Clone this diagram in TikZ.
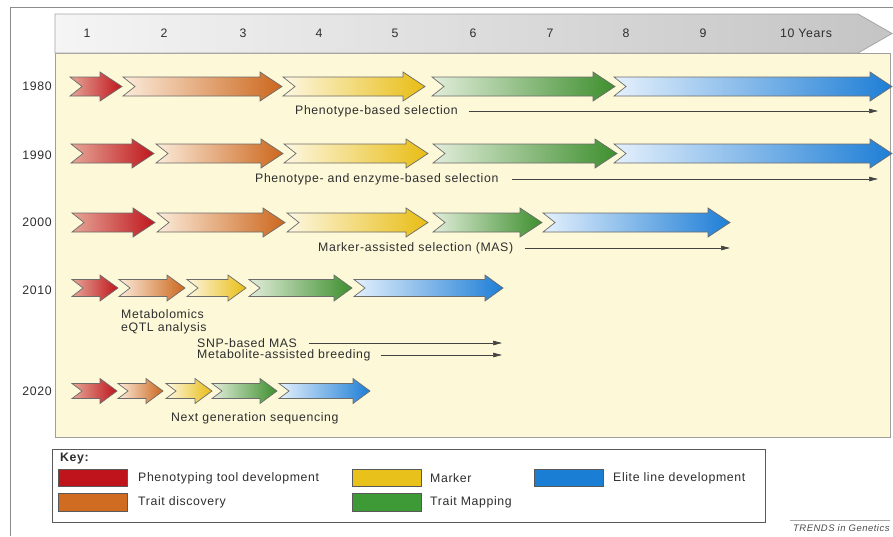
\documentclass[tikz,border=0pt]{standalone}
\usepackage{fontspec}
\setmainfont{Liberation Sans}[LetterSpace=5]
\usetikzlibrary{arrows.meta}
\definecolor{txt}{HTML}{2E2E2E}
\definecolor{frame}{HTML}{8C8C8C}
\definecolor{panel}{HTML}{FCF8D8}
\definecolor{redE}{HTML}{BF161D}
\definecolor{redS}{HTML}{E6A697}
\definecolor{orgE}{HTML}{CC671D}
\definecolor{orgS}{HTML}{FBEBDA}
\definecolor{yelE}{HTML}{E8BD14}
\definecolor{yelS}{HTML}{FDF7E2}
\definecolor{grnE}{HTML}{3E8F2E}
\definecolor{grnS}{HTML}{E2EDDA}
\definecolor{bluE}{HTML}{1E7ED6}
\definecolor{bluS}{HTML}{E4F0FC}
\definecolor{kred}{HTML}{C0141C}
\definecolor{korg}{HTML}{CF6C22}
\definecolor{kyel}{HTML}{E8C21A}
\definecolor{kgrn}{HTML}{3E9A36}
\definecolor{kblu}{HTML}{1A7ED4}
\newcommand\chv[5]{%
  \path[chevline, left color=#4, right color=#5]
  (#1,#3-\bh) -- (#2-\hl,#3-\bh) -- (#2-\hl,#3-\hh) -- (#2,#3)
  -- (#2-\hl,#3+\hh) -- (#2-\hl,#3+\bh) -- (#1,#3+\bh) -- (#1+\nd,#3) -- cycle;}
\begin{document}
\begin{tikzpicture}[x=1pt,y=-1pt,
  font=\fontsize{12.3}{13}\selectfont, text=txt,
  chevline/.style={draw=gray!85!black, line width=0.7pt, line join=miter},
  lbl/.style={anchor=west, inner sep=0pt},
  yr/.style={inner sep=0pt},
  lblline/.style={draw=txt!90, line width=0.7pt, -{Triangle[length=9pt,width=4.5pt]}},
  swatch/.style={draw=gray!70!black, line width=0.5pt, minimum width=69pt, minimum height=17pt, inner sep=0pt}]
\useasboundingbox (0,0) rectangle (893,536);
\fill[white] (0,0) rectangle (893,536);
% outer frame
\draw[frame, line width=0.8pt] (893,7) -- (10,7) -- (10,536);
% panel
\draw[draw=gray!75, fill=panel, line width=0.8pt] (55,53) rectangle (890,437);
% header band
\path[draw=gray!70, line width=0.8pt, left color=white!96!black, right color=white!77!black]
  (55,14) -- (858,14) -- (892,33.5) -- (858,53) -- (55,53) -- cycle;
\foreach \n/\x in {1/87,2/164,3/243,4/319,5/395,6/473,7/550,8/626,9/703}
  \node[yr] (h\n) at (\x,33) {\n};
\node[yr] (h10) at (806,33) {10 Years};
% year labels
\node[yr] (y1980) at (37,86) {1980};
\node[yr] (y1990) at (37,155) {1990};
\node[yr] (y2000) at (37,222) {2000};
\node[yr] (y2010) at (37,290) {2010};
\node[yr] (y2020) at (37,391) {2020};
% row 1980
\def\bh{9.5}\def\hh{14.5}\def\hl{22}\def\nd{12}
\chv{70}{122}{86.5}{redS}{redE}
\chv{123}{282}{86.5}{orgS}{orgE}
\chv{283}{425}{86.5}{yelS}{yelE}
\chv{432}{615}{86.5}{grnS}{grnE}
\chv{614}{892}{86.5}{bluS}{bluE}
% row 1990
\chv{71}{154}{153.5}{redS}{redE}
\chv{156}{283}{153.5}{orgS}{orgE}
\chv{284}{428}{153.5}{yelS}{yelE}
\chv{433}{617}{153.5}{grnS}{grnE}
\chv{614}{892}{153.5}{bluS}{bluE}
% row 2000
\chv{72}{155}{222.5}{redS}{redE}
\chv{157}{285}{222.5}{orgS}{orgE}
\chv{287}{428}{222.5}{yelS}{yelE}
\chv{433}{542}{222.5}{grnS}{grnE}
\chv{543}{730}{222.5}{bluS}{bluE}
% row 2010
\def\bh{8.5}\def\hh{13}\def\hl{18}\def\nd{11}
\chv{72}{118}{288}{redS}{redE}
\chv{119}{185}{288}{orgS}{orgE}
\chv{187}{246}{288}{yelS}{yelE}
\chv{249}{352}{288}{grnS}{grnE}
\chv{354}{503}{288}{bluS}{bluE}
% row 2020
\def\bh{7.5}\def\hh{12.5}\def\hl{17}\def\nd{10}
\chv{72}{117}{391}{redS}{redE}
\chv{118}{163}{391}{orgS}{orgE}
\chv{166}{212}{391}{yelS}{yelE}
\chv{212}{277}{391}{grnS}{grnE}
\chv{279}{370}{391}{bluS}{bluE}
% labels with arrows
\node[lbl] (t1) at (295,111) {Phenotype-based selection};
\coordinate (e1) at (878,111);
\draw[lblline] ([xshift=11pt]t1.east) -- (e1);
\node[lbl] (t2) at (255,179) {Phenotype- and enzyme-based selection};
\coordinate (e2) at (878,179);
\draw[lblline] ([xshift=13pt]t2.east) -- (e2);
\node[lbl] (t3) at (318,248) {Marker-assisted selection (MAS)};
\coordinate (e3) at (730,248);
\draw[lblline] ([xshift=12pt]t3.east) -- (e3);
\node[lbl, anchor=base west] (t4) at (121,318) {Metabolomics};
\node[lbl, anchor=base west] (t5) at (121,331) {eQTL analysis};
\node[lbl] (t6) at (197,343) {SNP-based MAS};
\coordinate (e6) at (502,343);
\draw[lblline] ([xshift=12pt]t6.east) -- (e6);
\node[lbl] (t7) at (197,355) {Metabolite-assisted breeding};
\coordinate (e7) at (502,355);
\draw[lblline] ([xshift=10pt]t7.east) -- (e7);
\node[lbl] (t8) at (171,418) {Next generation sequencing};
% key
\node[draw=gray!70!black, line width=0.7pt, fill=white, minimum width=713pt, minimum height=73pt, inner sep=0pt] (key) at (408.5,485.5) {};
\node[lbl, font=\fontsize{12.3}{13}\selectfont\bfseries] (keyt) at (60,459) {Key:};
\node[swatch, fill=kred] (k1) at (92.5,477.5) {};
\node[swatch, fill=korg, minimum height=18pt] (k2) at (92.5,502) {};
\node[swatch, fill=kyel] (k3) at (387,477.5) {};
\node[swatch, fill=kgrn, minimum height=18pt] (k4) at (387,502) {};
\node[swatch, fill=kblu] (k5) at (568.5,477.5) {};
\node[lbl] (kt1) at (138,478) {Phenotyping tool development};
\node[lbl] (kt2) at (138,502) {Trait discovery};
\node[lbl] (kt3) at (430,478) {Marker};
\node[lbl] (kt4) at (430,502) {Trait Mapping};
\node[lbl] (kt5) at (613,478) {Elite line development};
% credit
\draw[gray!70, line width=0.6pt] (790,520) -- (890,520);
\node[lbl, font=\fontsize{9.5}{10}\selectfont\itshape, text=gray!60!black] (cred) at (793,528) {TRENDS in Genetics};
\end{tikzpicture}
\end{document}
